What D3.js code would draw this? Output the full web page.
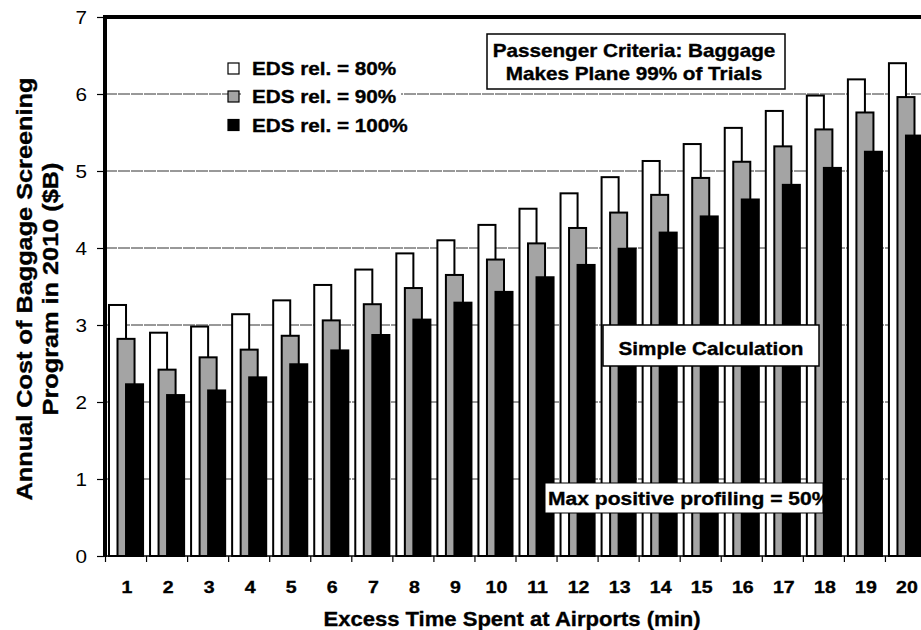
<!DOCTYPE html>
<html>
<head>
<meta charset="utf-8">
<script src="https://cdn.jsdelivr.net/npm/d3@7/dist/d3.min.js"></script>
<style>
  html, body { margin: 0; padding: 0; background: #fff; }
  svg { display: block; }
  text { font-family: "Liberation Sans", Arial, Helvetica, sans-serif; fill: #000; }
</style>
</head>
<body>
<svg id="chart" width="921" height="630"></svg>
<script>
// ---------------- data ----------------
const categories = ["1","2","3","4","5","6","7","8","9","10","11","12","13","14","15","16","17","18","19","20"];
const seriesNames = ["EDS rel. = 80%", "EDS rel. = 90%", "EDS rel. = 100%"];
const eds80  = [3.26, 2.90, 2.98, 3.14, 3.32, 3.52, 3.72, 3.93, 4.10, 4.30, 4.51, 4.71, 4.92, 5.13, 5.35, 5.56, 5.78, 5.98, 6.19, 6.40];
const eds90  = [2.82, 2.42, 2.58, 2.68, 2.86, 3.06, 3.27, 3.48, 3.65, 3.85, 4.06, 4.26, 4.46, 4.69, 4.91, 5.12, 5.32, 5.54, 5.76, 5.96];
const eds100 = [2.23, 2.09, 2.15, 2.32, 2.49, 2.67, 2.87, 3.07, 3.29, 3.43, 3.62, 3.78, 3.99, 4.20, 4.41, 4.63, 4.82, 5.04, 5.25, 5.46];
const seriesValues = [eds80, eds90, eds100];
const yTicks = [0, 1, 2, 3, 4, 5, 6, 7];
const yTitleLines = ["Annual Cost of Baggage Screening", "Program in 2010 ($B)"];
const xTitle = "Excess Time Spent at Airports (min)";
const noteCriteria = ["Passenger Criteria: Baggage", "Makes Plane 99% of Trials"];
const noteSimple = "Simple Calculation";
const noteProfiling = "Max positive profiling = 50%";

// ---------------- styles ----------------
const fills = ["#ffffff", "#a4a4a4", "#000000"];
const SX = 1.15; // horizontal stretch of the lettering

const svg = d3.select("#chart");
const plotLeft = 105, plotTop = 17, plotBottom = 556, plotRight = 921;

const x = d3.scaleBand().domain(categories).range([105.5, 926.5]).paddingInner(0).paddingOuter(0);
const y = d3.scaleLinear().domain([0, 7]).range([plotBottom, plotTop]);
const barW = x.bandwidth() * 0.415;
const sub = d3.scalePoint().domain(seriesNames).range([-barW / 2, barW / 2]);

function sText(parent, tx, ty, str, o) {
  const g = parent.append("g")
    .attr("transform", `translate(${tx},${ty})${o.rotate ? " rotate(" + o.rotate + ")" : ""} scale(${o.sx || SX},1)`);
  return g.append("text")
    .attr("x", 0).attr("y", 0)
    .attr("text-anchor", o.anchor || "start")
    .attr("font-size", o.size)
    .attr("font-weight", o.weight || "bold")
    .attr("stroke", "#000").attr("stroke-width", o.weight === "normal" ? 0 : 0.35)
    .text(str);
}

// gridlines
svg.append("g").selectAll("line")
  .data(yTicks.filter(d => d > 0 && d < 7))
  .join("line")
  .attr("x1", plotLeft).attr("x2", plotRight)
  .attr("y1", d => y(d)).attr("y2", d => y(d))
  .attr("stroke", "#333").attr("stroke-width", 1)
  .attr("stroke-dasharray", "12,1");

// bars
const barsG = svg.append("g");
seriesNames.forEach((name, si) => {
  barsG.append("g").selectAll("rect")
    .data(seriesValues[si].map((v, i) => ({ cat: categories[i], v })))
    .join("rect")
    .attr("x", d => x(d.cat) + x.bandwidth() / 2 + sub(name) - barW / 2)
    .attr("y", d => y(d.v))
    .attr("width", barW)
    .attr("height", d => y(0) - y(d.v))
    .attr("fill", fills[si])
    .attr("stroke", "#000")
    .attr("stroke-width", 2);
});

// baseline and x boundary ticks
svg.append("line")
  .attr("x1", plotLeft).attr("x2", plotRight)
  .attr("y1", y(0)).attr("y2", y(0))
  .attr("stroke", "#000").attr("stroke-width", 1.5);
svg.append("g").selectAll("line")
  .data(categories)
  .join("line")
  .attr("x1", d => x(d)).attr("x2", d => x(d))
  .attr("y1", y(0)).attr("y2", y(0) + 6)
  .attr("stroke", "#000").attr("stroke-width", 1.2);

// x labels (axis)
const xAxis = d3.axisBottom(x).tickSize(0).tickPadding(0);
const xg = svg.append("g").attr("transform", `translate(1,${y(0)})`).call(xAxis);
xg.select(".domain").remove();
xg.selectAll("text")
  .attr("y", 0).attr("dy", 0)
  .attr("transform", `translate(0,37) scale(${SX},1)`)
  .attr("font-size", 17).attr("font-weight", "bold")
  .attr("stroke", "#000").attr("stroke-width", 0.35)
  .attr("font-family", "Liberation Sans, Arial, sans-serif")
  .attr("fill", "#000");

// y axis
const yAxis = d3.axisLeft(y).tickValues(yTicks).tickSize(7).tickPadding(0).tickFormat(d3.format("d"));
const yg = svg.append("g").attr("transform", `translate(${plotLeft - 1},0)`).call(yAxis);
yg.select(".domain").remove();
yg.selectAll(".tick line").attr("stroke", "#000").attr("stroke-width", 1.2);
yg.selectAll("text")
  .attr("x", 0).attr("dy", "0.35em")
  .attr("transform", `translate(-17,0) scale(${SX},1)`)
  .attr("font-size", 18)
  .attr("font-family", "Liberation Sans, Arial, sans-serif")
  .attr("fill", "#000");

// frame: thick left axis and top border
svg.append("line").attr("x1", plotLeft).attr("x2", plotLeft)
  .attr("y1", plotTop - 2).attr("y2", plotBottom + 1)
  .attr("stroke", "#000").attr("stroke-width", 4);
svg.append("line").attr("x1", plotLeft - 2).attr("x2", plotRight)
  .attr("y1", plotTop).attr("y2", plotTop)
  .attr("stroke", "#000").attr("stroke-width", 4);

// legend
const legend = svg.append("g");
const legendRows = [68.5, 96.5, 125];
legend.append("rect").attr("x", 241).attr("y", 54).attr("width", 160).attr("height", 84).attr("fill", "#fff");
seriesNames.forEach((name, i) => {
  legend.append("rect")
    .attr("x", 228).attr("y", legendRows[i] - 5.5)
    .attr("width", 11).attr("height", 11)
    .attr("fill", fills[i]).attr("stroke", "#000").attr("stroke-width", 1.2);
  sText(legend, 252, legendRows[i] + 6.5, name, { size: 18 });
});

// note: passenger criteria
const n1 = svg.append("g");
n1.append("rect").attr("x", 487).attr("y", 34).attr("width", 298).attr("height", 55)
  .attr("fill", "#fff").attr("stroke", "#000").attr("stroke-width", 1.5);
sText(n1, 634, 57, noteCriteria[0], { size: 18, anchor: "middle" });
sText(n1, 634, 80, noteCriteria[1], { size: 18, anchor: "middle" });

// note: simple calculation
const n2 = svg.append("g");
n2.append("rect").attr("x", 603).attr("y", 325).attr("width", 216).attr("height", 41)
  .attr("fill", "#fff").attr("stroke", "#000").attr("stroke-width", 1.5);
sText(n2, 711, 355, noteSimple, { size: 18, anchor: "middle" });

// note: profiling (text clipped by its box)
svg.append("defs").append("clipPath").attr("id", "profClip")
  .append("rect").attr("x", 545).attr("y", 483).attr("width", 278).attr("height", 30);
const n3 = svg.append("g");
n3.append("rect").attr("x", 545).attr("y", 483).attr("width", 278).attr("height", 30)
  .attr("fill", "#fff").attr("stroke", "#000").attr("stroke-width", 1);
const n3t = n3.append("g").attr("clip-path", "url(#profClip)");
sText(n3t, 548, 505, noteProfiling, { size: 18.3 });

// axis titles
sText(svg, 512, 626, xTitle, { size: 21, anchor: "middle", sx: 1.05 });
sText(svg, 32, 289, yTitleLines[0], { size: 22, anchor: "middle", rotate: -90 });
sText(svg, 58, 289, yTitleLines[1], { size: 22, anchor: "middle", rotate: -90 });
</script>
</body>
</html>
